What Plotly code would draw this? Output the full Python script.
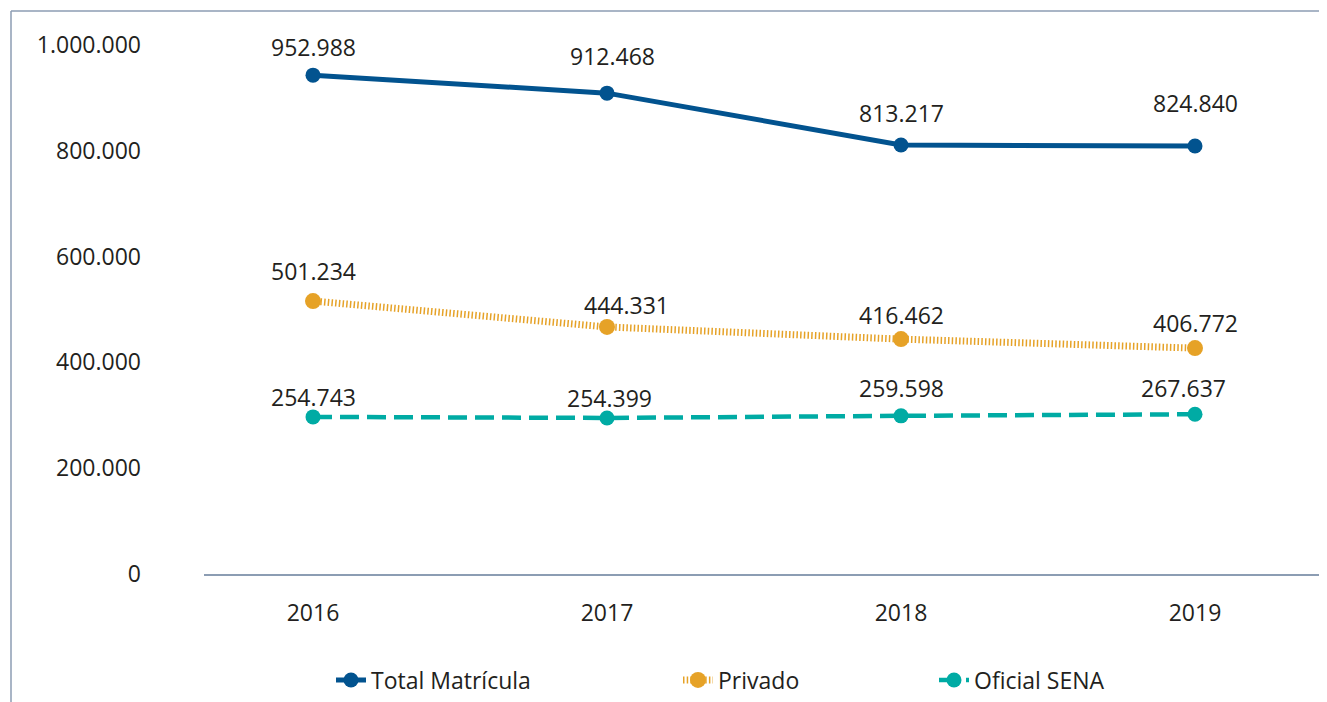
import plotly.graph_objects as go

years = ["2016", "2017", "2018", "2019"]

# plotted positions and printed labels
total_vals = [943000, 909000, 811000, 809000]
total_lbls = ["952.988", "912.468", "813.217", "824.840"]
priv_vals = [516000, 467000, 444000, 427000]
priv_lbls = ["501.234", "444.331", "416.462", "406.772"]
sena_vals = [297000, 295000, 299000, 302000]
sena_lbls = ["254.743", "254.399", "259.598", "267.637"]

y_ticks = [0, 200000, 400000, 600000, 800000, 1000000]
y_tick_text = ["0", "200.000", "400.000", "600.000", "800.000", "1.000.000"]

# label offsets (style)
total_shift = [(0, 28), (5, 37), (0, 32), (0, 43)]
priv_shift = [(0, 30), (19, 22), (0, 24), (0, 25)]
sena_shift = [(0, 20), (2, 20), (0, 28), (-12, 26)]

BLUE = "#02538f"
ORANGE = "#e6a227"
TEAL = "#00aba4"
FONT = "Open Sans"
TXT = "#231f20"

x_idx = list(range(len(years)))

fig = go.Figure()
fig.add_trace(go.Scatter(
    x=x_idx, y=total_vals, name="Total Matrícula", mode="lines+markers",
    line=dict(color=BLUE, width=5), marker=dict(size=15, color=BLUE),
    legend="legend", showlegend=True))
fig.add_trace(go.Scatter(
    x=x_idx, y=priv_vals, name="Privado", mode="lines+markers",
    line=dict(color=ORANGE, width=7, dash="1.5px,2.2px"), marker=dict(size=16, color=ORANGE),
    legend="legend2", showlegend=True))
fig.add_trace(go.Scatter(
    x=x_idx, y=sena_vals, name="Oficial SENA", mode="lines+markers",
    line=dict(color=TEAL, width=4.5, dash="19px,8px"), marker=dict(size=15, color=TEAL),
    legend="legend3", showlegend=True))

for vals, lbls, shifts in [(total_vals, total_lbls, total_shift),
                           (priv_vals, priv_lbls, priv_shift),
                           (sena_vals, sena_lbls, sena_shift)]:
    for xi, v, t, (dx, dy) in zip(x_idx, vals, lbls, shifts):
        fig.add_annotation(x=xi, y=v, text=t, showarrow=False,
                           xshift=dx, yshift=dy,
                           font=dict(family=FONT, size=23, color=TXT))

# page body has an 8px margin; work in screen pixels and subtract it
OFF = 8
W, H = 1327 - OFF, 702 - OFF
L = 204 - OFF
T = 20 - OFF
AXIS_Y = 574 - OFF
B = H - AXIS_Y
R = 0
pw = W - L - R
ph = H - T - B

def px_x(p):
    return (p - OFF - L) / pw

def px_y(p):
    return (H - B - (p - OFF)) / ph

frame = "#8c9db3"
fig.add_shape(type="line", xref="paper", yref="paper",
              x0=px_x(11), x1=px_x(11), y0=px_y(11), y1=px_y(710),
              line=dict(color=frame, width=1.5))
fig.add_shape(type="line", xref="paper", yref="paper",
              x0=px_x(11), x1=1.0, y0=px_y(11), y1=px_y(11),
              line=dict(color=frame, width=1.5))

leg_common = dict(orientation="h", yanchor="middle", xanchor="left",
                  font=dict(family=FONT, size=23, color=TXT),
                  bgcolor="rgba(0,0,0,0)")
fig.update_layout(
    width=W, height=H,
    margin=dict(l=L, r=R, t=T, b=B),
    showlegend=True,
    paper_bgcolor="white", plot_bgcolor="white",
    font=dict(family=FONT, size=23, color=TXT),
    legend=dict(x=px_x(331), y=px_y(680), **leg_common),
    legend2=dict(x=px_x(678), y=px_y(680), **leg_common),
    legend3=dict(x=px_x(934), y=px_y(680), **leg_common),
    xaxis=dict(range=[(204 - 313) / 294, (1327 - 313) / 294],
               tickvals=x_idx, ticktext=years,
               showgrid=False, zeroline=False,
               showline=True, linecolor=frame, linewidth=1.5,
               ticks="", ticklabelstandoff=18,
               tickfont=dict(family=FONT, size=23, color=TXT)),
    yaxis=dict(range=[0, ph / 529 * 1e6],
               tickvals=y_ticks, ticktext=y_tick_text,
               showgrid=False, zeroline=False, showline=False,
               ticks="", ticklabelstandoff=62,
               tickfont=dict(family=FONT, size=23, color=TXT)),
)

fig.write_html("out.html")
